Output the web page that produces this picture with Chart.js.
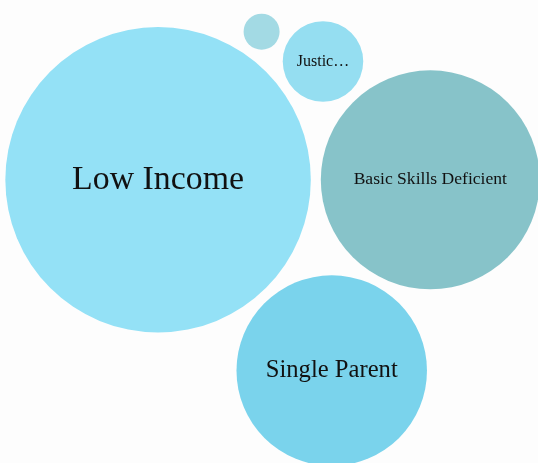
<!DOCTYPE html>
<html>
<head>
<meta charset="utf-8">
<script src="https://cdn.jsdelivr.net/npm/chart.js@4/dist/chart.umd.min.js"></script>
<style>
  html, body { margin: 0; padding: 0; background: #fdfdfd; }
  #wrap { width: 538px; height: 463px; }
</style>
</head>
<body>
<div id="wrap"><canvas id="bubbles" width="538" height="463"></canvas></div>
<script>
// packed bubbles: one circle per group, area ~ count
const groups = ['Low Income', 'Basic Skills Deficient', 'Single Parent', 'Justice Involved', 'Homeless'];
const counts = [72, 37, 28, 5, 1];
const colors = ['#94e1f6', '#87c3c9', '#7ad3ec', '#95def1', '#a3dae4'];

const WIDTH = 538, HEIGHT = 463;
const PAD_BOTTOM = 39;
const RADIUS_PER_SQRT = 18;
const GAP = 10;
const FONT_FAMILY = '"Liberation Serif", Times, "Times New Roman", serif';

// which two circles each later circle sits against, and on which side
const packRules = [null, null, [0, 1, 1], [0, 1, -1], [0, 3, -1]];

function placeTangent(a, b, r, side) {
    const da = a.r + r + GAP, db = b.r + r + GAP;
    const dx = b.x - a.x, dy = b.y - a.y;
    const d = Math.hypot(dx, dy);
    const along = (da * da - db * db + d * d) / (2 * d);
    const h = Math.sqrt(Math.max(0, da * da - along * along));
    const ux = dx / d, uy = dy / d;
    return { x: a.x + along * ux - side * h * uy, y: a.y + along * uy + side * h * ux };
}

function pack(values) {
    const out = [];
    values.forEach((v, i) => {
        const r = RADIUS_PER_SQRT * Math.sqrt(v);
        if (i === 0) {
            out.push({ x: 0, y: 0, r });
        } else if (i === 1) {
            out.push({ x: out[0].r + r + GAP, y: 0, r });
        } else {
            const [a, b, side] = packRules[i];
            const p = placeTangent(out[a], out[b], r, side);
            out.push({ x: p.x, y: p.y, r });
        }
    });
    return out;
}

const circles = pack(counts);

// centre the pack on its area-weighted centroid
let wSum = 0, cx = 0, cy = 0;
circles.forEach(c => { const w = c.r * c.r; wSum += w; cx += c.x * w; cy += c.y * w; });
cx /= wSum; cy /= wSum;
const areaH = HEIGHT - PAD_BOTTOM;

const fontFor = r => Math.max(16, 0.16 * r + 9.4);
const MIN_FONT = 16;

const bubbleLabels = {
    id: 'bubbleLabels',
    afterDatasetsDraw(chart) {
        const ctx = chart.ctx;
        const meta = chart.getDatasetMeta(0);
        ctx.save();
        ctx.fillStyle = '#111111';
        ctx.textAlign = 'center';
        ctx.textBaseline = 'middle';
        meta.data.forEach((el, i) => {
            const r = el.options.radius;
            const room = 1.4 * r + 1;
            let size = fontFor(r);
            let text = groups[i];
            ctx.font = size + 'px ' + FONT_FAMILY;
            const w = ctx.measureText(text).width;
            if (w > room) {
                // shrink to fit, but not below the minimum size
                size = Math.max(MIN_FONT, size * (room - 1) / w);
                ctx.font = size + 'px ' + FONT_FAMILY;
            }
            if (ctx.measureText(text).width > room) {
                let n = text.length;
                while (n > 0 && ctx.measureText(text.slice(0, n) + '…').width > room) n--;
                if (n === 0) return;
                text = text.slice(0, n) + '…';
            }
            ctx.fillText(text, el.x, el.y);
        });
        ctx.restore();
    }
};

new Chart(document.getElementById('bubbles'), {
    type: 'bubble',
    data: {
        labels: groups,
        datasets: [{
            data: circles.map(c => ({ x: c.x, y: c.y, r: c.r })),
            backgroundColor: colors,
            borderWidth: 0,
            hoverRadius: 0,
            clip: false
        }]
    },
    options: {
        responsive: false,
        animation: false,
        devicePixelRatio: 1,
        layout: { autoPadding: false, padding: { bottom: PAD_BOTTOM } },
        scales: {
            x: { display: false, bounds: 'data', min: cx - WIDTH / 2, max: cx + WIDTH / 2 },
            y: { display: false, bounds: 'data', reverse: true, min: cy - areaH / 2, max: cy + areaH / 2 }
        },
        plugins: {
            legend: { display: false },
            tooltip: { enabled: false }
        }
    },
    plugins: [bubbleLabels]
});
</script>
</body>
</html>
